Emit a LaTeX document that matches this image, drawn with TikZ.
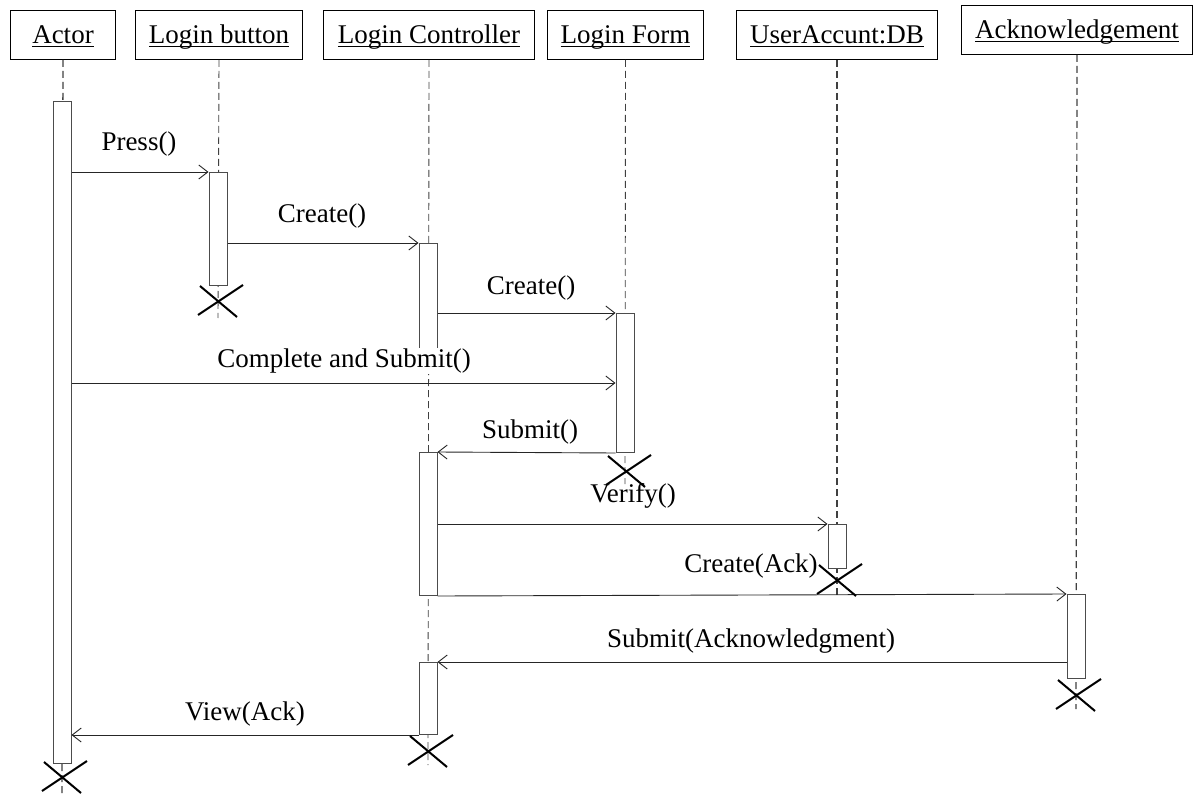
\documentclass[tikz,border=0pt]{standalone}
\usepackage{fontspec}
\setmainfont{Liberation Serif}
\usetikzlibrary{arrows.meta,calc}
% underline set at a fixed depth below the baseline, crossing descenders
\newcommand\ulname[1]{\setbox0\hbox{#1}\rlap{\rule[-3.5pt]{\wd0}{1.2pt}}\box0}
\begin{document}
\begin{tikzpicture}[x=1pt,y=-1pt,
  font=\fontsize{27}{32}\selectfont,
  head/.style={draw, line width=1pt, inner sep=0pt, anchor=north west, minimum height=49pt, text height=24pt, text depth=7pt},
  lifeline/.style={draw=black!75, line width=0.9pt, dash pattern=on 7pt off 4pt},
  bar/.style={draw=black!70, fill=white, line width=1pt, minimum width=18pt, inner sep=0pt, anchor=north},
  msg/.style={draw=black!85, line width=0.9pt, -{Straight Barb[length=9pt,width=14pt]}},
  lbl/.style={inner sep=1pt},
  kill/.style={draw=black, line width=2pt}
]
\useasboundingbox (0,0) rectangle (1193,794);

% participant heads
\node[head, minimum width=105pt] (hact)  at (10,10)  {\ulname{Actor}};
\node[head, minimum width=167pt] (hlb)   at (135,10) {\ulname{Login button}};
\node[head, minimum width=211pt] (hctl)  at (323,10) {\ulname{Login Controller}};
\node[head, minimum width=156pt] (hform) at (547,10) {\ulname{Login Form}};
\node[head, minimum width=201pt] (hdb)   at (736,10) {\ulname{UserAccunt:DB}};
\node[head, minimum width=231pt] (hack)  at (961,5)  {\ulname{Acknowledgement}};

% lifeline ends
\coordinate (eact)  at (62,794);
\coordinate (elb)   at (218,318);
\coordinate (ectl)  at (428,765);
\coordinate (eform) at (625,484);
\coordinate (edb)   at (837,597);
\coordinate (eack)  at (1076,709);

\draw[lifeline, line width=1.4pt] (hact.south) -- (eact);
\draw[lifeline] (hlb.south) -- (elb);
\draw[lifeline] (hctl.south) -- (ectl);
\draw[lifeline] (hform.south) -- (eform);
\draw[lifeline, line width=1.2pt] (hdb.south) -- (edb);
\draw[lifeline, line width=1.2pt] (hack.south) -- (eack);

% activation bars
\node[bar, minimum height=662pt] (actbar) at (62,101)  {};
\node[bar, minimum height=113pt] (lbbar)  at (218,172) {};
\node[bar, minimum height=107pt] (ctl1)   at (428,243) {};
\node[bar, minimum height=139pt] (form)   at (625,313) {};
\node[bar, minimum height=143pt] (ctl2)   at (428,452) {};
\node[bar, minimum height=44pt]  (db)     at (837,524) {};
\node[bar, minimum height=84pt]  (ack)    at (1076,594) {};
\node[bar, minimum height=72pt]  (ctl3)   at (428,662) {};

% messages
\coordinate (cs) at (0,383);
\draw[msg] (actbar.east |- lbbar.north) -- (lbbar.north west);
\draw[msg] (lbbar.east |- ctl1.north) -- (ctl1.north west);
\draw[msg] (ctl1.east |- form.north) -- (form.north west);
\draw[msg] (actbar.east |- cs) -- (form.west |- cs);
\draw[msg] (form.south west) -- (ctl2.north east);
\draw[msg] (ctl2.east |- db.north) -- (db.north west);
\draw[msg] (ctl2.south east) -- (ack.north west);
\draw[msg] (ack.west |- ctl3.north) -- (ctl3.north east);
\draw[msg] (ctl3.south west) -- (actbar.east |- ctl3.south);

% message labels
\node[lbl] (lpress)  at (139,144) {Press()};
\node[lbl] (lcr1)    at (322,216) {Create()};
\node[lbl] (lcr2)    at (531,288) {Create()};
\node[lbl, fill=white] (lcs) at (344,361) {Complete and Submit()};
\node[lbl] (lsub)    at (530,432) {Submit()};
\node[lbl] (lver)    at (633,496) {Verify()};
\node[lbl] (lcrack)  at (751,566) {Create(Ack)};
\node[lbl] (lsuback) at (751,641) {Submit(Acknowledgment)};
\node[lbl] (lview)   at (245,714) {View(Ack)};

% destruction marks
\foreach \c/\p in {xlb/{218,301}, xform/{626,471}, xdb/{837,580}, xack/{1076,695}, xctl/{428,751}, xact/{62,777}}{
  \coordinate (\c) at (\p);
  \draw[kill] ([shift={(-20,14)}]\c) -- ([shift={(25,-16)}]\c);
  \draw[kill] ([shift={(-18,-15)}]\c) -- ([shift={(19,16)}]\c);
}
\end{tikzpicture}
\end{document}
